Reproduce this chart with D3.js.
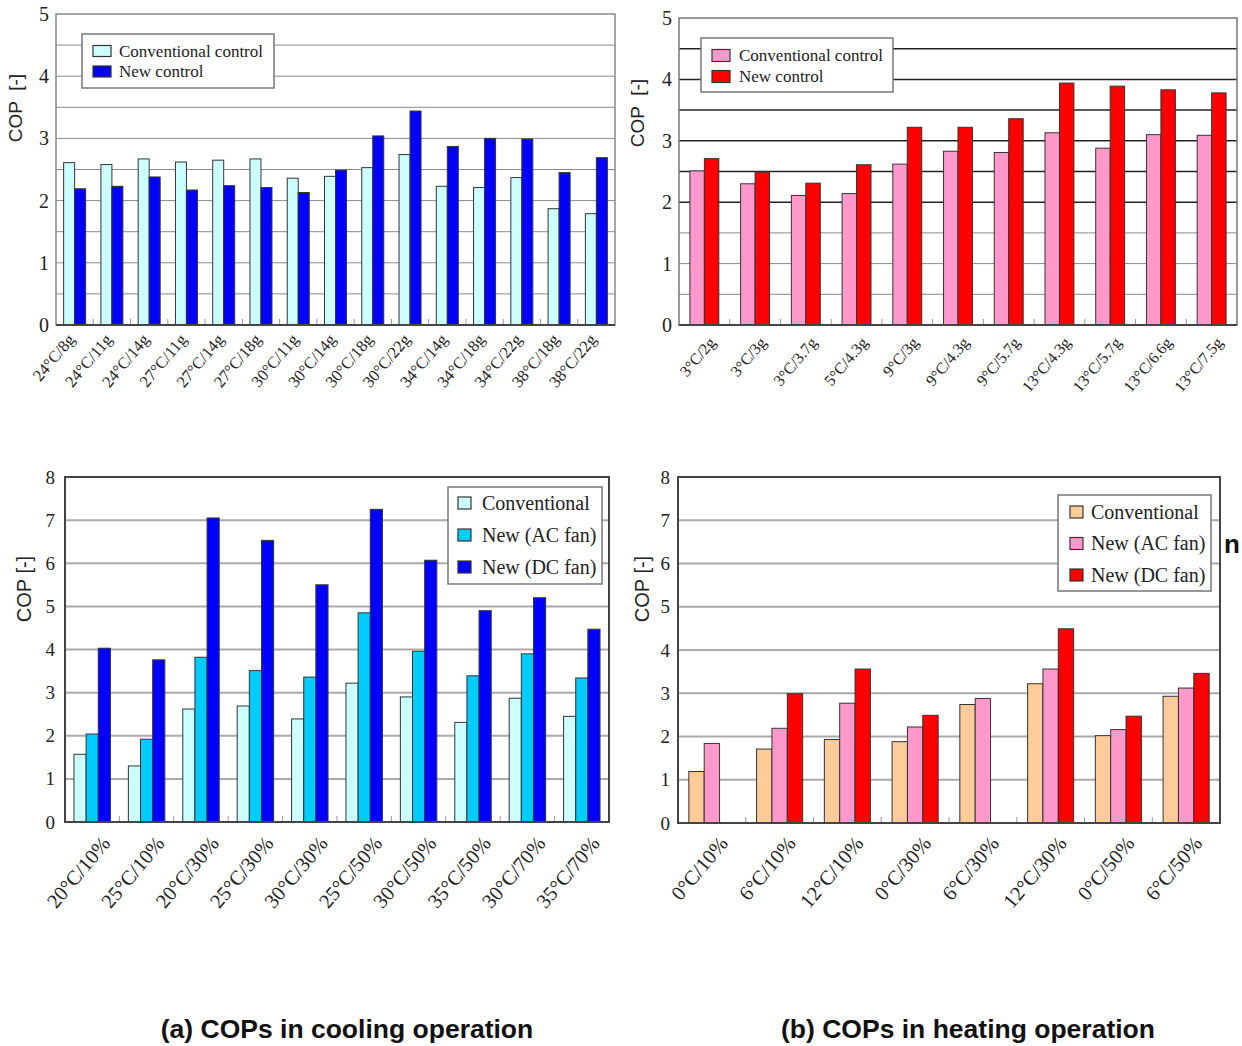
<!DOCTYPE html>
<html>
<head>
<meta charset="utf-8">
<script src="https://cdn.jsdelivr.net/npm/d3@7"></script>
<style>
  html, body { margin: 0; padding: 0; background: #fff; }
  svg { display: block; }
</style>
</head>
<body>
<svg id="fig" width="1242" height="1046"></svg>
<script>
// ---- Cooling, panel 1: conventional vs new control ----
const coolCats = ["24°C/8g", "24°C/11g", "24°C/14g", "27°C/11g", "27°C/14g", "27°C/18g",
  "30°C/11g", "30°C/14g", "30°C/18g", "30°C/22g", "34°C/14g", "34°C/18g", "34°C/22g",
  "38°C/18g", "38°C/22g"];
const coolConv = [2.61, 2.58, 2.67, 2.62, 2.65, 2.67, 2.36, 2.39, 2.53, 2.74, 2.23, 2.21, 2.37, 1.87, 1.79];
const coolNew  = [2.19, 2.23, 2.38, 2.17, 2.24, 2.21, 2.13, 2.49, 3.04, 3.44, 2.87, 3.00, 2.99, 2.45, 2.69];

// ---- Heating, panel 1: conventional vs new control ----
const heatCats = ["3°C/2g", "3°C/3g", "3°C/3.7g", "5°C/4.3g", "9°C/3g", "9°C/4.3g", "9°C/5.7g",
  "13°C/4.3g", "13°C/5.7g", "13°C/6.6g", "13°C/7.5g"];
const heatConv = [2.51, 2.30, 2.11, 2.14, 2.62, 2.83, 2.81, 3.13, 2.88, 3.10, 3.09];
const heatNew  = [2.71, 2.49, 2.31, 2.61, 3.22, 3.22, 3.36, 3.94, 3.89, 3.83, 3.78];

// ---- Cooling, panel 2: fan comparison ----
const coolFanCats = ["20°C/10%", "25°C/10%", "20°C/30%", "25°C/30%", "30°C/30%",
  "25°C/50%", "30°C/50%", "35°C/50%", "30°C/70%", "35°C/70%"];
const coolFanConv = [1.57, 1.30, 2.62, 2.69, 2.39, 3.22, 2.90, 2.31, 2.87, 2.45];
const coolFanAC   = [2.04, 1.92, 3.82, 3.51, 3.36, 4.85, 3.96, 3.39, 3.90, 3.34];
const coolFanDC   = [4.03, 3.76, 7.05, 6.53, 5.50, 7.25, 6.07, 4.90, 5.20, 4.47];

// ---- Heating, panel 2: fan comparison (no DC-fan run at two points) ----
const heatFanCats = ["0°C/10%", "6°C/10%", "12°C/10%", "0°C/30%", "6°C/30%",
  "12°C/30%", "0°C/50%", "6°C/50%"];
const heatFanConv = [1.19, 1.71, 1.93, 1.88, 2.74, 3.22, 2.02, 2.93];
const heatFanAC   = [1.84, 2.19, 2.77, 2.22, 2.88, 3.56, 2.16, 3.12];
const heatFanDC   = [null, 2.99, 3.56, 2.49, null, 4.49, 2.47, 3.46];

const yTicksTop = [0, 1, 2, 3, 4, 5];
const yTicksBottom = [0, 1, 2, 3, 4, 5, 6, 7, 8];

const SERIF = "'Liberation Serif', 'Times New Roman', serif";
const SANS = "'Liberation Sans', Arial, sans-serif";

const svg = d3.select("#fig");
svg.append("rect").attr("width", 1242).attr("height", 1046).attr("fill", "#fff");

function drawPanel(p) {
  const g = svg.append("g");
  const y = d3.scaleLinear().domain([0, p.yMax]).range([p.bottom, p.top]);
  const x = d3.scaleBand().domain(p.cats).range([p.left, p.right])
    .paddingInner(p.pad).paddingOuter(p.pad / 2);
  const xs = d3.scaleBand().domain(d3.range(p.series.length)).range([0, x.bandwidth()]);

  // grid lines
  g.selectAll("line.grid").data(p.grid).join("line")
    .attr("x1", p.left).attr("x2", p.right)
    .attr("y1", d => y(d)).attr("y2", d => y(d))
    .attr("stroke", d => p.gridColor(d))
    .attr("stroke-width", d => p.gridWidth(d));

  // category separators (small inward ticks on the base line)
  const seps = d3.range(1, p.cats.length).map(i => p.left + i * x.step());
  g.selectAll("line.sep").data(seps).join("line")
    .attr("x1", d => d).attr("x2", d => d)
    .attr("y1", p.bottom).attr("y2", p.bottom - 6)
    .attr("stroke", "#999").attr("stroke-width", 1);

  // bars
  p.series.forEach((s, si) => {
    g.append("g").selectAll("rect")
      .data(s.values.map((v, i) => ({ v, c: p.cats[i] })).filter(d => d.v != null))
      .join("rect")
      .attr("x", d => x(d.c) + xs(si))
      .attr("y", d => y(d.v))
      .attr("width", xs.bandwidth())
      .attr("height", d => y(0) - y(d.v))
      .attr("fill", s.color)
      .attr("stroke", "#333")
      .attr("stroke-width", 1);
  });

  // frame
  g.append("rect")
    .attr("x", p.left).attr("y", p.top)
    .attr("width", p.right - p.left).attr("height", p.bottom - p.top)
    .attr("fill", "none").attr("stroke", p.frameColor).attr("stroke-width", p.frameWidth);
  g.append("line")
    .attr("x1", p.left).attr("x2", p.right).attr("y1", p.bottom).attr("y2", p.bottom)
    .attr("stroke", "#444").attr("stroke-width", 2);

  // y axis labels
  const yAxis = d3.axisLeft(y).tickValues(p.yTicks).tickSize(0).tickPadding(p.yLabelGap)
    .tickFormat(d3.format("d"));
  const ya = g.append("g").attr("transform", `translate(${p.left},0)`).call(yAxis);
  ya.select(".domain").remove();
  ya.selectAll("text")
    .attr("font-family", SERIF).attr("font-size", p.yFont).attr("fill", "#222");

  // x axis labels (rotated)
  const xAxis = d3.axisBottom(x).tickSize(0).tickPadding(0);
  const xa = g.append("g").attr("transform", `translate(0,${p.bottom})`).call(xAxis);
  xa.select(".domain").remove();
  xa.selectAll("text")
    .attr("font-family", SERIF).attr("font-size", p.xFont).attr("fill", "#222")
    .attr("text-anchor", "end")
    .attr("y", 0).attr("dy", 0)
    .attr("transform", `translate(${p.xLabelDx},${p.xLabelDy}) rotate(-50)`);

  // y axis title
  g.append("text")
    .attr("transform", `translate(${p.titleX},${p.titleY}) rotate(-90)`)
    .attr("text-anchor", "middle")
    .attr("font-family", SANS).attr("font-size", p.titleFont).attr("fill", "#222")
    .attr("xml:space", "preserve")
    .text(p.title);

  // legend
  const L = p.legend;
  const lg = g.append("g");
  lg.append("rect").attr("x", L.x).attr("y", L.y).attr("width", L.w).attr("height", L.h)
    .attr("fill", "#fff").attr("stroke", "#777").attr("stroke-width", 1.5);
  p.series.forEach((s, i) => {
    const cy = L.rowY + i * L.rowStep;
    lg.append("rect").attr("x", L.swX).attr("y", cy - L.swH / 2)
      .attr("width", L.swW).attr("height", L.swH)
      .attr("fill", s.color).attr("stroke", "#333").attr("stroke-width", 1.2);
    lg.append("text").attr("x", L.textX).attr("y", cy + L.font * 0.33)
      .attr("font-family", SERIF).attr("font-size", L.font).attr("fill", "#222")
      .text(s.name);
  });
}

const halfGrid = d3.range(1, 10).map(i => i * 0.5);
const intGrid = d3.range(1, 8);

drawPanel({
  cats: coolCats, left: 56, right: 615, top: 14, bottom: 325, yMax: 5, pad: 0.41,
  series: [
    { name: "Conventional control", values: coolConv, color: "#ccffff" },
    { name: "New control", values: coolNew, color: "#0000ff" }
  ],
  grid: halfGrid, gridColor: () => "#8a8a8a", gridWidth: () => 1,
  frameColor: "#888", frameWidth: 1.5,
  yTicks: yTicksTop, yFont: 20, yLabelGap: 7,
  xFont: 16.5, xLabelDx: 1, xLabelDy: 15,
  title: "COP  [-]", titleX: 22, titleY: 108, titleFont: 19,
  legend: { x: 82, y: 34, w: 192, h: 54, swX: 93, swW: 18, swH: 11, textX: 119,
            rowY: 51, rowStep: 20.5, font: 17 }
});

drawPanel({
  cats: heatCats, left: 679, right: 1237, top: 18, bottom: 325, yMax: 5, pad: 0.43,
  series: [
    { name: "Conventional control", values: heatConv, color: "#ff99cc" },
    { name: "New control", values: heatNew, color: "#ff0000" }
  ],
  grid: halfGrid,
  gridColor: d => d >= 2 ? "#222" : "#8a8a8a",
  gridWidth: d => d >= 2 ? 1.5 : 1,
  frameColor: "#777", frameWidth: 1.5,
  yTicks: yTicksTop, yFont: 20, yLabelGap: 7,
  xFont: 16, xLabelDx: 12, xLabelDy: 18,
  title: "COP  [-]", titleX: 644, titleY: 113, titleFont: 19,
  legend: { x: 701, y: 38, w: 192, h: 54, swX: 712, swW: 18, swH: 12, textX: 739,
            rowY: 55.5, rowStep: 21, font: 17 }
});

drawPanel({
  cats: coolFanCats, left: 65, right: 609, top: 477, bottom: 822, yMax: 8, pad: 0.33,
  series: [
    { name: "Conventional", values: coolFanConv, color: "#ccffff" },
    { name: "New (AC fan)", values: coolFanAC, color: "#00ccff" },
    { name: "New (DC fan)", values: coolFanDC, color: "#0000ff" }
  ],
  grid: intGrid, gridColor: () => "#aaa", gridWidth: () => 2,
  frameColor: "#444", frameWidth: 2,
  yTicks: yTicksBottom, yFont: 19, yLabelGap: 10,
  xFont: 20.5, xLabelDx: 19, xLabelDy: 22,
  title: "COP [-]", titleX: 31, titleY: 589, titleFont: 20,
  legend: { x: 448, y: 487, w: 154, h: 97, swX: 458, swW: 13, swH: 12, textX: 482,
            rowY: 503, rowStep: 32, font: 20 }
});

drawPanel({
  cats: heatFanCats, left: 678, right: 1220, top: 477, bottom: 823, yMax: 8, pad: 0.32,
  series: [
    { name: "Conventional", values: heatFanConv, color: "#ffcc99" },
    { name: "New (AC fan)", values: heatFanAC, color: "#ff99cc" },
    { name: "New (DC fan)", values: heatFanDC, color: "#ff0000" }
  ],
  grid: intGrid, gridColor: () => "#aaa", gridWidth: () => 2,
  frameColor: "#444", frameWidth: 2,
  yTicks: yTicksBottom, yFont: 19, yLabelGap: 8,
  xFont: 20.5, xLabelDx: 17, xLabelDy: 21,
  title: "COP [-]", titleX: 649, titleY: 589, titleFont: 20,
  legend: { x: 1058, y: 495, w: 153, h: 96, swX: 1070, swW: 13, swH: 12, textX: 1091,
            rowY: 512, rowStep: 31.5, font: 20 }
});

// stray glyph at the right edge of the heating panel
svg.append("text").attr("x", 1224).attr("y", 553)
  .attr("font-family", SANS).attr("font-weight", "bold").attr("font-size", 26)
  .attr("fill", "#111").text("n");

// panel captions
svg.append("text").attr("x", 347).attr("y", 1038).attr("text-anchor", "middle")
  .attr("font-family", SANS).attr("font-weight", "bold").attr("font-size", 26.5)
  .attr("fill", "#111").text("(a) COPs in cooling operation");
svg.append("text").attr("x", 968).attr("y", 1038).attr("text-anchor", "middle")
  .attr("font-family", SANS).attr("font-weight", "bold").attr("font-size", 26.5)
  .attr("fill", "#111").text("(b) COPs in heating operation");
</script>
</body>
</html>
